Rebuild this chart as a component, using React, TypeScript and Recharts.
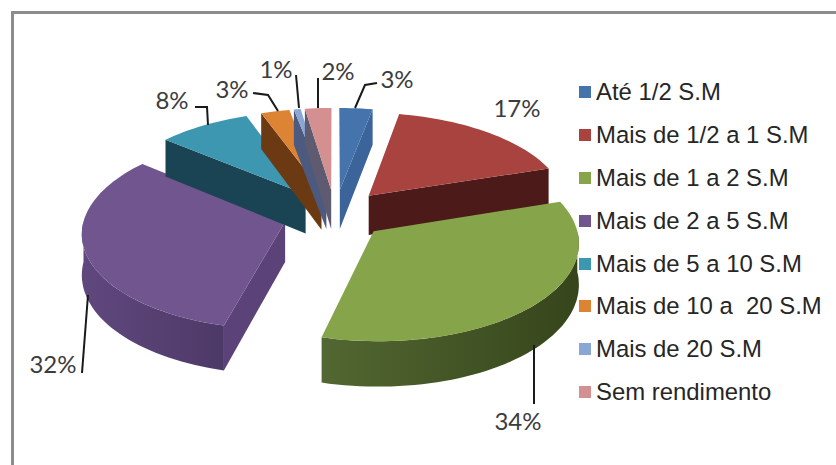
import React from "react";
import { PieChart, Pie, Legend } from "recharts";

const categories = [
  "Até 1/2 S.M",
  "Mais de 1/2 a 1 S.M",
  "Mais de 1 a 2 S.M",
  "Mais de 2 a 5 S.M",
  "Mais de 5 a 10 S.M",
  "Mais de 10 a  20 S.M",
  "Mais de 20 S.M",
  "Sem rendimento",
];
// labels show them rounded
const values = [3, 17, 34, 32, 8.4, 2.6, 0.6, 2.4];

const topColors = ["#4474ab", "#a84340", "#86a44a", "#70558f", "#3e97b0", "#dc8434", "#8aa6d4", "#d49090"];
const faceColors = ["#3a649a", "#4c1a18", "#3d4d22", "#5b4379", "#1a4453", "#6b3a13", "#4c5a80", "#5e5a70"];
const wallLight = ["#3a649a", "#4c1a18", "#526731", "#60487e", "#1a4453", "#6b3a13", "#4c5a80", "#5e5a70"];
const wallDark = ["#3a649a", "#4c1a18", "#36451b", "#4d3967", "#1a4453", "#6b3a13", "#4c5a80", "#5e5a70"];

// label centres and leader lines
const labelText = [
  [397, 78], [517, 107], [518, 420], [53, 363], [172, 99], [232, 88], [276, 68], [338, 70],
];
const leaders = [
  [[355, 108], [365, 85], [377, 83]],
  [],
  [[534, 345], [534, 404]],
  [[88, 295], [82, 373]],
  [[208, 125], [207, 107], [195, 107]],
  [[278, 111], [268, 95], [253, 93]],
  [[299, 108], [296, 75]],
  [[318, 108], [318, 78]],
];

const CX = 335;
const CY = 214;
const RADIUS = 200;
const SQUASH = 95;
const EXPLODE = 0.26;
const PERSP = 0.102;
const DEPTH = 40;

// clockwise degrees from 12 o'clock
const toCw = (a: number) => 90 - a;

// slice point on the tilted plane, pushed out along the slice's middle, with perspective
function project(cw: number, r: number, mid: number, drop = 0) {
  const t = (cw * Math.PI) / 180;
  const m = (mid * Math.PI) / 180;
  const u = EXPLODE * Math.sin(m) + r * Math.sin(t);
  const v = -EXPLODE * Math.cos(m) - r * Math.cos(t);
  const s = 1 / (1 - PERSP * v);
  return [CX + RADIUS * u * s, CY + SQUASH * v * s + drop * s];
}

function arcPoints(from: number, to: number, mid: number, drop = 0) {
  const pts = [];
  const n = Math.max(2, Math.ceil(Math.abs(to - from) / 2));
  for (let i = 0; i <= n; i++) pts.push(project(from + ((to - from) * i) / n, 1, mid, drop));
  return pts;
}

const toPath = (pts: number[][]) =>
  "M" + pts.map((p) => p[0].toFixed(1) + "," + p[1].toFixed(1)).join("L") + "Z";

function Slice3D(props: any) {
  const i = props.index;
  const start = toCw(props.startAngle);
  const end = toCw(props.endAngle);
  const mid = (start + end) / 2;
  const apex = project(0, 0, mid);
  const apexLow = project(0, 0, mid, DEPTH);
  const top = [apex, ...arcPoints(start, end, mid)];

  const wallFrom = Math.max(start, 90);
  const wallTo = Math.min(end, 270);
  const rim = wallTo > wallFrom ? arcPoints(wallFrom, wallTo, mid) : [];
  const rimLow = wallTo > wallFrom ? arcPoints(wallFrom, wallTo, mid, DEPTH) : [];

  const faces = [];
  if (Math.sin((end * Math.PI) / 180) > 0.001) {
    faces.push([apex, project(end, 1, mid), project(end, 1, mid, DEPTH), apexLow]);
  }
  if (Math.sin((start * Math.PI) / 180) < -0.001) {
    faces.push([apex, project(start, 1, mid), project(start, 1, mid, DEPTH), apexLow]);
  }

  return (
    <g>
      <defs>
        <linearGradient id={"wall" + i} x1="0" y1="0" x2="1" y2="0">
          <stop offset="0%" stopColor={wallLight[i]} />
          <stop offset="100%" stopColor={wallDark[i]} />
        </linearGradient>
      </defs>
      {faces.map((f, k) => (
        <path key={k} d={toPath(f)} fill={faceColors[i]} />
      ))}
      {rim.length > 0 && (
        <path d={toPath([...rim, ...rimLow.reverse()])} fill={"url(#wall" + i + ")"} />
      )}
      <path d={toPath(top)} fill={topColors[i]} />
    </g>
  );
}

function PctLabel(props: any) {
  const i = props.index;
  const [tx, ty] = labelText[i];
  return (
    <g>
      {leaders[i].length > 0 && (
        <polyline
          points={leaders[i].map((p) => p.join(",")).join(" ")}
          fill="none"
          stroke="#1a1a1a"
          strokeWidth={2}
        />
      )}
      <text
        x={tx}
        y={ty}
        textAnchor="middle"
        dominantBaseline="central"
        fontFamily="Lato, sans-serif"
        fontSize={24}
        fill="#3c3c3c"
      >
        {Math.round(values[i])}%
      </text>
    </g>
  );
}

function LegendList({ payload }: any) {
  return (
    <div>
      {(payload || []).map((entry: any, i: number) => (
        <div key={i} style={{ display: "flex", alignItems: "center", height: 42.8 }}>
          <span style={{ width: 12, height: 12, background: topColors[i], marginRight: 5 }} />
          <span
            style={{
              fontFamily: "'Liberation Sans', Arial, sans-serif",
              fontSize: 23.9,
              color: "#262626",
              whiteSpace: "pre",
            }}
          >
            {categories[i]}
          </span>
        </div>
      ))}
    </div>
  );
}

const tableData = categories.map((name, i) => ({ name, value: values[i], fill: topColors[i] }));

export default function App() {
  return (
    <div style={{ position: "absolute", left: 0, top: 0, width: 836, height: 465, background: "#fff", overflow: "hidden" }}>
      <div
        style={{
          position: "absolute",
          left: 11,
          top: 11,
          width: 840,
          height: 470,
          border: "3px solid #8c8c8c",
          boxSizing: "border-box",
        }}
      />
      <PieChart width={836} height={465} style={{ position: "absolute", left: 0, top: 0 }}>
        <Pie
          data={tableData}
          dataKey="value"
          nameKey="name"
          cx={CX}
          cy={CY}
          outerRadius={RADIUS}
          startAngle={90}
          endAngle={-270}
          stroke="none"
          shape={Slice3D}
          label={PctLabel}
          labelLine={false}
          isAnimationActive={false}
        />
        <Legend
          layout="vertical"
          content={<LegendList />}
          wrapperStyle={{ position: "absolute", left: 579, top: 71, width: 255 }}
        />
      </PieChart>
    </div>
  );
}
